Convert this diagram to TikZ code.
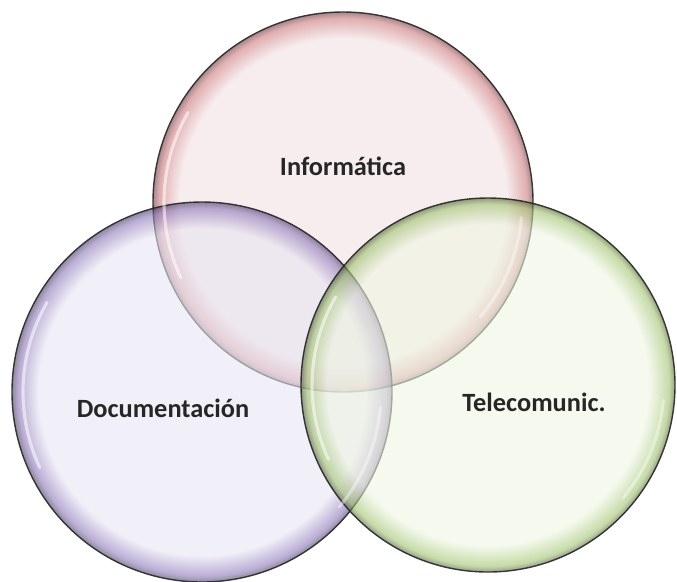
\documentclass[tikz,border=0pt]{standalone}
\usepackage{fontspec}
\setmainfont{Carlito}

\definecolor{redin}{RGB}{242,225,226}
\definecolor{redrim}{RGB}{205,120,125}
\definecolor{violetin}{RGB}{232,229,242}
\definecolor{violetrim}{RGB}{140,118,185}
\definecolor{greenin}{RGB}{238,245,226}
\definecolor{greenrim}{RGB}{160,195,110}

% bubble shadings: flat inside, coloured rim near the edge
\pgfdeclareradialshading{redbubble}{\pgfpoint{0bp}{0bp}}{color(0bp)=(redin); color(21.5bp)=(redin); color(24.2bp)=(redrim); color(25bp)=(redrim!50!black); color(50bp)=(redrim!50!black)}
\pgfdeclareradialshading{violetbubble}{\pgfpoint{0bp}{0bp}}{color(0bp)=(violetin); color(21.5bp)=(violetin); color(24.2bp)=(violetrim); color(25bp)=(violetrim!50!black); color(50bp)=(violetrim!50!black)}
\pgfdeclareradialshading{greenbubble}{\pgfpoint{0bp}{0bp}}{color(0bp)=(greenin); color(21.5bp)=(greenin); color(24.2bp)=(greenrim); color(25bp)=(greenrim!50!black); color(50bp)=(greenrim!50!black)}

\tikzset{
    bubble/.style={circle, inner sep=0pt, minimum size=7.6cm, shading=#1, fill opacity=0.6, draw=black!85, draw opacity=0.9, line width=0.8pt},
    shine/.style={white, line width=1.8pt, opacity=0.55, line cap=round},
    tag/.style={font=\fontsize{15}{18}\selectfont\bfseries, text=black!85}
}

\begin{document}
\begin{tikzpicture}
    \useasboundingbox (0,0) rectangle (13.54,-11.62);

    % the three sets
    \node[bubble=redbubble] (info) at (6.86,-4.04) {};
    \node[bubble=violetbubble] (docu) at (4.04,-7.84) {};
    \node[bubble=greenbubble, minimum size=7.48cm] (tele) at (9.76,-7.70) {};

    % highlights on the rims
    \foreach \c/\r in {info/3.58, docu/3.58, tele/3.52} {
            \draw[shine] (\c.center) ++(150:\r) arc (150:205:\r);
            \draw[shine, opacity=0.4] (\c.center) ++(-40:\r) arc (-40:-5:\r);
        }

    % labels
    \node[tag] (infolabel) at (6.86,-3.32) {Informática};
    \node[tag] (doculabel) at (3.26,-8.16) {Documentación};
    \node[tag] (telelabel) at (10.68,-8.04) {Telecomunic.};
\end{tikzpicture}
\end{document}
